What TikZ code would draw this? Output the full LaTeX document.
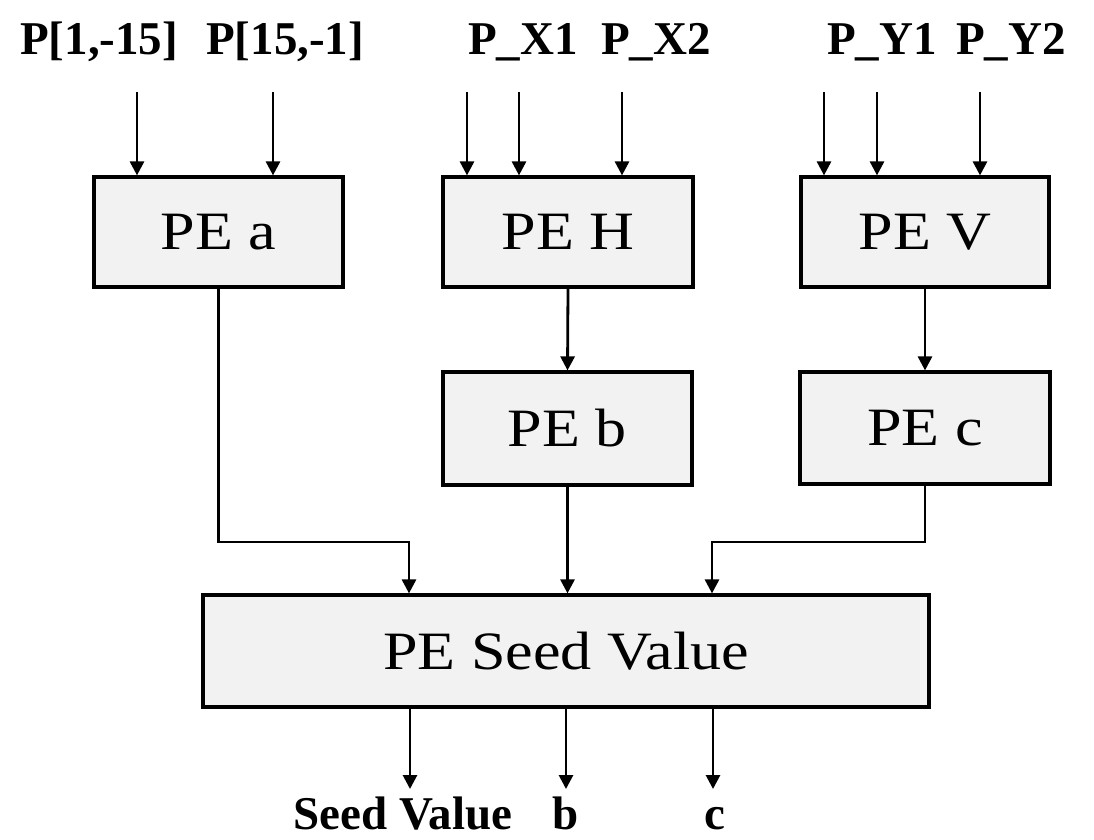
\documentclass[tikz,border=0pt]{standalone}
\usepackage{fontspec}
\setmainfont{Liberation Serif}
\newfontfamily\boxfont[FakeStretch=1.15]{Liberation Serif}
\usetikzlibrary{arrows.meta}
\tikzset{
  pebox/.style={draw=black, line width=3.2pt, fill=black!5, inner sep=0pt,
    font=\boxfont\fontsize{54pt}{60pt}\selectfont},
  lbl/.style={inner sep=0pt, font=\bfseries\fontsize{47pt}{50pt}\selectfont},
  arr/.style={line width=2.8pt, -{Triangle[length=14pt,width=14pt]}}
}
\begin{document}
\begin{tikzpicture}[x=1pt,y=-1pt]
\useasboundingbox (0,0) rectangle (1094,839);
\fill[white] (0,0) rectangle (1094,839);
% boxes
\node[pebox, minimum width=249pt, minimum height=110pt] (PEa) at (218.5,232) {PE a};
\node[pebox, minimum width=250pt, minimum height=110pt] (PEH) at (568,232) {PE H};
\node[pebox, minimum width=248pt, minimum height=110pt] (PEV) at (925,232) {PE V};
\node[pebox, minimum width=249pt, minimum height=113pt] (PEb) at (567.5,428.5) {PE b};
\node[pebox, minimum width=250pt, minimum height=112pt] (PEc) at (925,428) {PE c};
\node[pebox, minimum width=726pt, minimum height=112pt] (Seed) at (566,651) {PE Seed Value};
% top labels
\node[lbl, anchor=base west] (t1) at (20,54) {P[1,-15]};
\node[lbl, anchor=base west] (t2) at (206,54) {P[15,-1]};
\node[lbl, anchor=base west] (t3) at (468,54) {P\_X1};
\node[lbl, anchor=base west] (t4) at (601,54) {P\_X2};
\node[lbl, anchor=base west] (t5) at (827,54) {P\_Y1};
\node[lbl, anchor=base west] (t6) at (956,54) {P\_Y2};
% input coordinates
\coordinate (a1) at (137,92);
\coordinate (a2) at (273,92);
\coordinate (h1) at (467,92);
\coordinate (h2) at (519,92);
\coordinate (h3) at (622,92);
\coordinate (v1) at (824,92);
\coordinate (v2) at (877,92);
\coordinate (v3) at (980,92);
\foreach \c/\b in {a1/PEa,a2/PEa,h1/PEH,h2/PEH,h3/PEH,v1/PEV,v2/PEV,v3/PEV}
  \draw[arr] (\c) -- (\c |- \b.north);
% internal connections
\coordinate (j1) at (409,542);
\coordinate (j2) at (712,542);
\draw[arr] (PEH.south) -- (PEb.north);
\draw[arr] (PEV.south) -- (PEc.north);
\draw[arr] (PEa.south) |- (j1) -- (j1 |- Seed.north);
\draw[arr] (PEb.south) -- (PEb.south |- Seed.north);
\draw[arr] (PEc.south) |- (j2) -- (j2 |- Seed.north);
% outputs
\coordinate (o1) at (410,789);
\coordinate (o2) at (566,789);
\coordinate (o3) at (713,789);
\foreach \c in {o1,o2,o3}
  \draw[arr] (\c |- Seed.south) -- (\c);
\node[lbl, anchor=base] (b1) at (403,829) {Seed Value};
\node[lbl, anchor=base] (b2) at (566,829) {b};
\node[lbl, anchor=base] (b3) at (715,829) {c};
\end{tikzpicture}
\end{document}
